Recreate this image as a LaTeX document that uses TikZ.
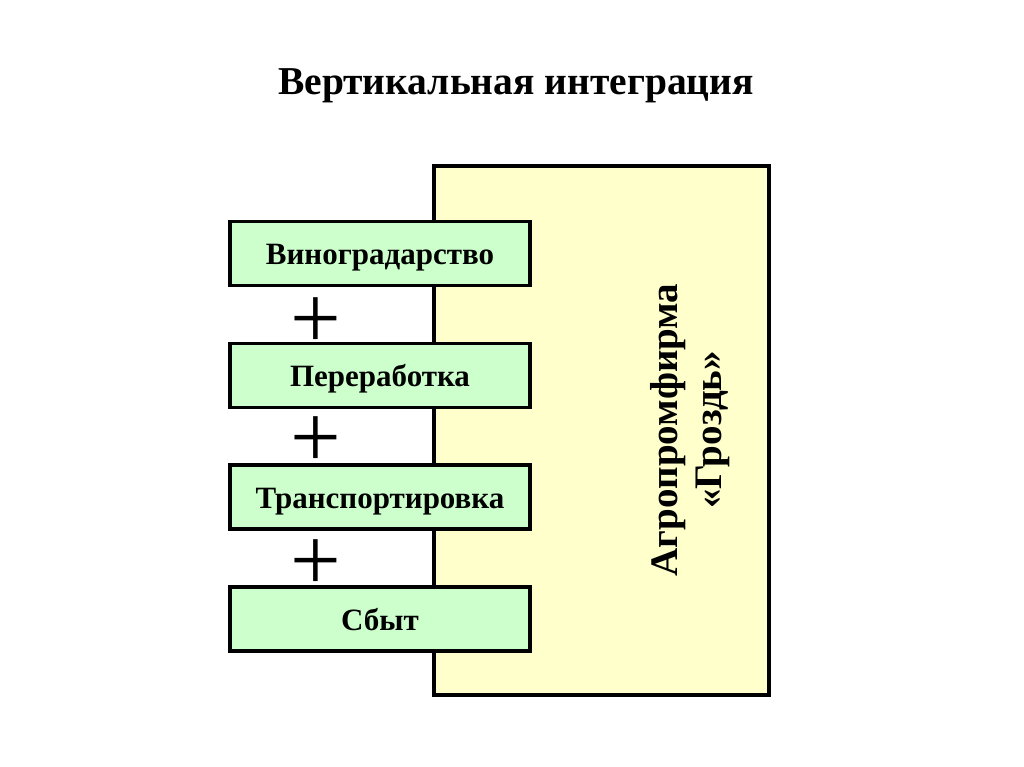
\documentclass[tikz,border=0pt]{standalone}
\usepackage{fontspec}
\setmainfont{Liberation Serif}
\definecolor{boxgreen}{HTML}{CCFFCC}
\definecolor{boxyellow}{HTML}{FFFFCC}
\begin{document}
\begin{tikzpicture}[x=1pt,y=-1pt,
  stage/.style={draw=black,line width=3.5pt,fill=boxgreen,minimum width=300pt,minimum height=64pt,inner sep=0pt,text height=22pt,text depth=0pt,font=\fontsize{31}{34}\selectfont\bfseries},
  firm/.style={draw=black,line width=3.5pt,fill=boxyellow,minimum width=335pt,minimum height=529pt,inner sep=0pt},
  plus/.style={font=\fontsize{90}{90}\selectfont,inner sep=0pt}]
\useasboundingbox (0,0) rectangle (1024,767);
\node (title) at (516,86) {\fontsize{39.5}{44}\selectfont\bfseries Вертикальная интеграция};
\node[firm] (firm) at (601.5,430.5) {};
\node[rotate=90,align=center,font=\fontsize{39}{44}\selectfont\bfseries] (firmtext) at (690,430) {Агропромфирма\\«Гроздь»};
\node[stage] (s1) at (380,253.5) {Виноградарство};
\node[stage] (s2) at (380,375.5) {Переработка};
\node[stage] (s3) at (380,497) {Транспортировка};
\node[stage] (s4) at (380,619) {Сбыт};
\node[plus] (p1) at (316,323) {+};
\node[plus] (p2) at (316,442) {+};
\node[plus] (p3) at (316,565) {+};
\end{tikzpicture}
\end{document}
